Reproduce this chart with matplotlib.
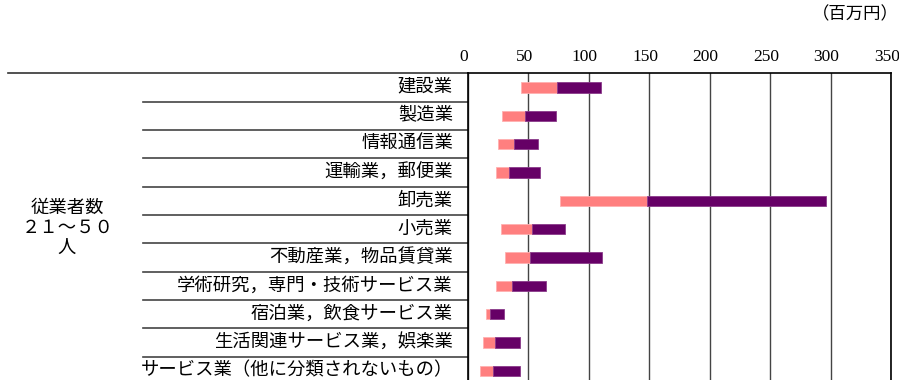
import matplotlib.pyplot as plt
import matplotlib.transforms as mtransforms

plt.rcParams['font.family'] = ['Liberation Serif', 'Noto Sans CJK JP', 'DejaVu Sans']

# industries (top to bottom)
cats = ['建設業', '製造業', '情報通信業', '運輸業，郵便業', '卸売業', '小売業',
        '不動産業，物品賃貸業', '学術研究，専門・技術サービス業',
        '宿泊業，飲食サービス業', '生活関連サービス業，娯楽業',
        'サービス業（他に分類されないもの）']
# low / middle / high values (million yen)
low = [44, 28, 25, 23, 76, 27, 30.5, 23.5, 15, 12.5, 10]
mid = [74, 47.5, 38, 34, 148, 53, 51.5, 36, 18, 22.5, 21]
high = [110, 73, 58, 59.5, 296.5, 80, 111, 64.5, 30, 43, 43]
ticks = [0, 50, 100, 150, 200, 250, 300, 350]

W, H = 899, 380
fig = plt.figure(figsize=(W / 100, H / 100), dpi=100)
ax = fig.add_axes([468 / W, -5 / H, (891 - 468) / W, (385 - 73.3) / H])

y = list(range(len(cats)))
w1 = [m - l for l, m in zip(low, mid)]
w2 = [h - m for m, h in zip(mid, high)]
ax.barh(y, w1, left=low, height=0.36, color='#FF7F7F', edgecolor='#FFB0B0', lw=0.6, zorder=3)
ax.barh(y, w2, left=mid, height=0.36, color='#660066', edgecolor='#8A3A8A', lw=0.6, zorder=3)

ax.set_xlim(0, 350)
ax.set_ylim(len(cats) - 0.5, -0.5)
ax.xaxis.tick_top()
ax.set_xticks(ticks)
ax.set_xticklabels([str(t) for t in ticks], fontsize=12.5)
ax.tick_params(axis='x', length=0, pad=6)
# labels sit a little left of their gridlines in the original
shift = mtransforms.ScaledTranslation(-4 / 100, 0, fig.dpi_scale_trans)
for lab in ax.get_xticklabels():
    lab.set_transform(lab.get_transform() + shift)
ax.set_yticks([])
ax.grid(axis='x', color='#444444', lw=1.0, zorder=1)
for s in ['top', 'left', 'right']:
    ax.spines[s].set_color('black')
    ax.spines[s].set_linewidth(1.2)
ax.spines['bottom'].set_visible(False)

tr = mtransforms.blended_transform_factory(fig.transFigure, ax.transData)
# top rule across the whole table
ax.plot([8 / W, 468 / W], [-0.5, -0.5], color='#333333', lw=1.2, transform=tr, clip_on=False)
for i, c in enumerate(cats):
    ax.text(453 / W, i, c, transform=tr, ha='right', va='center', fontsize=13.2)
    if i < len(cats) - 1:
        ax.plot([143 / W, 468 / W], [i + 0.5, i + 0.5], color='#444444', lw=1.2,
                transform=tr, clip_on=False)

fig.text(67 / W, 1 - 208 / H, '従業者数', ha='center', va='center', fontsize=13.2)
fig.text(68 / W, 1 - 228 / H, '２１～５０', ha='center', va='center', fontsize=13.2)
fig.text(67 / W, 1 - 248 / H, '人', ha='center', va='center', fontsize=13.2)
fig.text(899 / W, 1 - 15 / H, '（百万円）', ha='right', va='center', fontsize=12.5)

fig.savefig('out.png', dpi=100)
